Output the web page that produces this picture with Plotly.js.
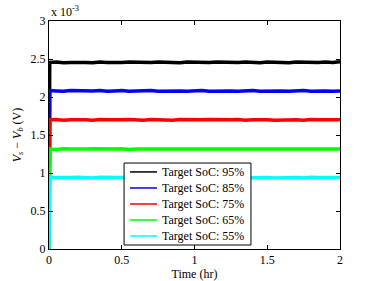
<!DOCTYPE html>
<html><head><meta charset="utf-8">
<script src="https://cdn.plot.ly/plotly-3.0.1.min.js"></script>
<style>html,body{margin:0;padding:0;background:#fff}#c{width:374px;height:281px}</style>
</head><body><div id="c"></div>
<script>
// Time (hr)
const timeHr = [0,0.005,0.05,0.1,0.15,0.2,0.25,0.3,0.35,0.4,0.45,0.5,0.55,0.6,0.65,0.7,0.75,0.8,0.85,0.9,0.95,
  1,1.05,1.1,1.15,1.2,1.25,1.3,1.35,1.4,1.45,1.5,1.55,1.6,1.65,1.7,1.75,1.8,1.85,1.9,1.95,2];
// Vs - Vb in units of 1e-3 V
const soc95 = [0,
  2.455,2.46,2.45,2.455,2.46,2.455,2.45,2.46,2.455,2.45,
  2.455,2.46,2.455,2.45,2.455,2.46,2.455,2.455,2.45,2.46,
  2.455,2.45,2.455,2.46,2.455,2.45,2.455,2.46,2.455,2.45,
  2.46,2.455,2.455,2.45,2.46,2.455,2.45,2.455,2.46,2.455,
  2.465];
const soc85 = [0,
  2.085,2.08,2.075,2.085,2.08,2.075,2.08,2.085,2.075,2.08,
  2.085,2.075,2.08,2.08,2.085,2.075,2.08,2.085,2.08,2.075,
  2.08,2.085,2.075,2.08,2.085,2.08,2.075,2.08,2.085,2.075,
  2.08,2.085,2.08,2.075,2.08,2.085,2.075,2.08,2.08,2.075,
  2.08];
const soc75 = [0,
  1.70,1.705,1.695,1.70,1.705,1.70,1.695,1.705,1.70,1.695,
  1.70,1.705,1.70,1.695,1.705,1.70,1.70,1.695,1.705,1.70,
  1.695,1.70,1.705,1.70,1.695,1.70,1.705,1.695,1.70,1.705,
  1.70,1.695,1.70,1.705,1.70,1.695,1.705,1.70,1.695,1.70,
  1.70];
const soc65 = [0,
  1.315,1.31,1.32,1.315,1.31,1.315,1.32,1.315,1.31,1.315,
  1.32,1.31,1.315,1.315,1.32,1.31,1.315,1.32,1.315,1.31,
  1.315,1.32,1.31,1.315,1.32,1.315,1.31,1.315,1.32,1.31,
  1.315,1.32,1.315,1.31,1.315,1.32,1.31,1.315,1.315,1.31,
  1.315];
const soc55 = [0,
  0.945,0.94,0.935,0.94,0.945,0.94,0.935,0.945,0.94,0.935,
  0.94,0.945,0.94,0.935,0.94,0.945,0.935,0.94,0.945,0.94,
  0.935,0.94,0.945,0.94,0.935,0.94,0.945,0.935,0.94,0.945,
  0.94,0.935,0.94,0.945,0.94,0.935,0.945,0.94,0.935,0.94,
  0.94];
const seriesNames = ['Target SoC: 95%','Target SoC: 85%','Target SoC: 75%','Target SoC: 65%','Target SoC: 55%'];
const seriesData = [soc95, soc85, soc75, soc65, soc55];
const seriesColors = ['#000000','#0000ff','#ff0000','#00ff00','#00ffff'];
const xTicks = [0,0.5,1,1.5,2];
const yTicks = [0,0.5,1,1.5,2,2.5,3];

const font = {family:'Liberation Serif', size:12, color:'#000'};
const traces = seriesData.map((d,i)=>({
  x: timeHr, y: d, type:'scatter', mode:'lines', name: seriesNames[i],
  line:{color: seriesColors[i], width:3.5}, showlegend:false
}));

// Legend box drawn in paper coordinates (MATLAB-style compact legend)
const shapes = [{type:'rect', xref:'paper', yref:'paper', x0:0.258, x1:0.694, y0:0.0175, y1:0.377,
  fillcolor:'#fff', line:{color:'#000', width:1}, layer:'above'}];
const annotations = [{xref:'paper', yref:'paper', x:0, y:1, xanchor:'left', yanchor:'bottom',
  text:'x 10<sup>-3</sup>', showarrow:false, font:font}];
seriesNames.forEach((nm,i)=>{
  const yc = 0.338 - i*0.0703;
  shapes.push({type:'line', xref:'paper', yref:'paper', x0:0.278, x1:0.371, y0:yc, y1:yc,
    line:{color:seriesColors[i], width:1.5}, layer:'above'});
  annotations.push({xref:'paper', yref:'paper', x:0.382, y:yc, xanchor:'left', yanchor:'middle',
    text:nm, showarrow:false, font:font});
});

const axisCommon = {showline:true, mirror:'ticks', linecolor:'#000', linewidth:1,
  ticks:'inside', ticklen:4, tickcolor:'#000', showgrid:false, zeroline:false, tickfont:font};
const layout = {
  width:374, height:281, margin:{l:49, r:34, t:21, b:32},
  paper_bgcolor:'#fff', plot_bgcolor:'#fff', font:font,
  xaxis: Object.assign({}, axisCommon, {range:[0,2], tickvals:xTicks, ticktext:xTicks.map(String),
    title:{text:'Time (hr)', font:font, standoff:2}}),
  yaxis: Object.assign({}, axisCommon, {range:[0,3], tickvals:yTicks, ticktext:yTicks.map(String),
    title:{text:'<i>V</i><sub><i>s</i></sub> − <i>V</i><sub><i>b</i></sub> (V)', font:font, standoff:6}}),
  showlegend:false,
  shapes: shapes,
  annotations: annotations
};
Plotly.newPlot('c', traces, layout, {displayModeBar:false, staticPlot:true});
</script></body></html>
